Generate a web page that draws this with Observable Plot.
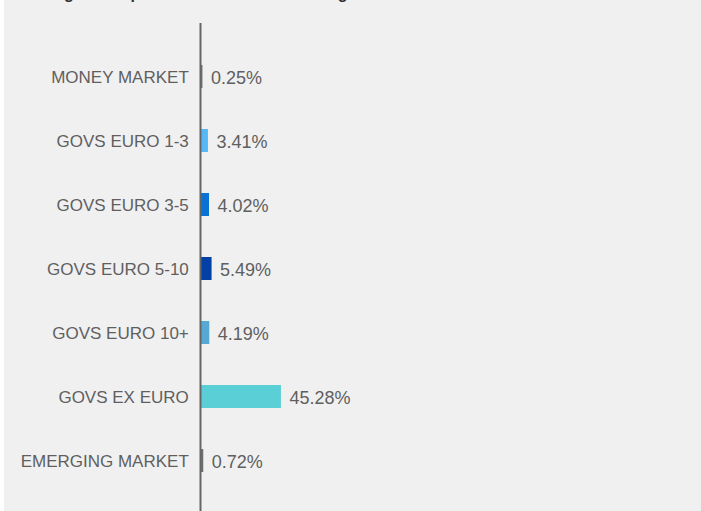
<!DOCTYPE html>
<html>
<head>
<meta charset="utf-8">
<script src="https://cdn.jsdelivr.net/npm/d3@7"></script>
<script src="https://cdn.jsdelivr.net/npm/@observablehq/plot@0.6"></script>
<style>
  html, body { margin: 0; padding: 0; background: #ffffff; overflow: hidden; }
  #wrap { position: absolute; left: 4px; top: 0; width: 697px; height: 511px; background: #f0f0f0; overflow: hidden; }
  #title { position: absolute; top: -15px; left: 16px; font: bold 16px "Liberation Sans", Arial, sans-serif; line-height: 17px; color: #333333; white-space: nowrap; }
  #chart { position: absolute; left: 0; top: 0; }
</style>
</head>
<body>
<div id="wrap">
  <div id="title">Average bond portfolio allocation and weight</div>
  <div id="chart"></div>
</div>
<script>
const categories = ["MONEY MARKET", "GOVS EURO 1-3", "GOVS EURO 3-5", "GOVS EURO 5-10", "GOVS EURO 10+", "GOVS EX EURO", "EMERGING MARKET"];
const values = [0.25, 3.41, 4.02, 5.49, 4.19, 45.28, 0.72];
const valueLabels = ["0.25%", "3.41%", "4.02%", "5.49%", "4.19%", "45.28%", "0.72%"];
const barColors = ["#6e6e6e", "#57b8f7", "#0a72d3", "#0340a6", "#55a9d2", "#5bcfd6", "#6e6e6e"];

const data = categories.map((c, i) => ({category: c, value: values[i], label: valueLabels[i], color: barColors[i]}));

const chart = Plot.plot({
  width: 697,
  height: 511,
  marginTop: 23,
  marginBottom: 0,
  marginLeft: 198,
  marginRight: 324,
  style: {background: "transparent", fontFamily: "'Liberation Sans', Arial, sans-serif"},
  x: {domain: [0, 100], range: [198, 372.35], axis: null},
  y: {domain: categories, range: [23.5, 514.2], padding: 0.642, axis: null},
  color: {type: "identity"},
  marks: [
    Plot.barX(data, {x: "value", y: "category", fill: "color", insetLeft: -2}),
    Plot.ruleX([0], {stroke: "#666666", strokeWidth: 2, dx: -2}),
    Plot.text(data, {x: "value", y: "category", text: "label", dx: 8, dy: 1.3, textAnchor: "start", fontSize: 18, fill: "#5f5f5f"}),
    Plot.text(data, {x: 0, y: "category", text: "category", dx: -13.7, dy: 1, textAnchor: "end", fontSize: 17, fill: "#5f5f5f"})
  ]
});
document.getElementById("chart").appendChild(chart);
</script>
</body>
</html>
